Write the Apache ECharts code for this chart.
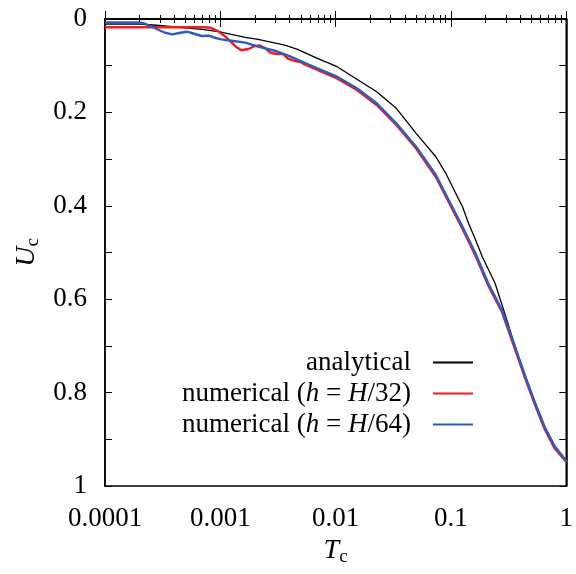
<!DOCTYPE html>
<html>
<head>
<meta charset="utf-8">
<script src="https://cdn.jsdelivr.net/npm/echarts@6/dist/echarts.min.js"></script>
<style>
  html, body { margin: 0; padding: 0; background: #fff; }
  #chart { width: 576px; height: 574px; }
</style>
</head>
<body>
<div id="chart"></div>
<script>
// analytical
var t_ana = [1e-4, 2e-4, 2.96e-4, 6.91e-4, 9.66e-4, 1.645e-3, 2.126e-3, 3.62e-3, 4.68e-3, 6.94e-3,
  0.0103, 0.0153, 0.0227, 0.0336, 0.0499, 0.074, 0.0902, 0.110, 0.126, 0.142, 0.163, 0.187, 0.2415, 0.294,
  0.359, 0.4365, 0.532, 0.649, 0.789, 1];
var u_ana = [0.0107, 0.0107, 0.0139, 0.0221, 0.0272, 0.0392, 0.0435, 0.0557, 0.0649, 0.0842,
  0.1021, 0.1291, 0.1557, 0.1912, 0.2448, 0.2949, 0.3304, 0.3732, 0.402, 0.4375, 0.472, 0.509, 0.566, 0.6317,
  0.7, 0.761, 0.819, 0.872, 0.913, 0.945];
// numerical h=H/32
var t_h32 = [1e-4, 2.43e-4, 6.51e-4, 7.93e-4, 8.75e-4, 9.66e-4, 1.088e-3, 1.249e-3, 1.378e-3, 1.521e-3,
  1.746e-3, 2.004e-3, 2.212e-3, 2.441e-3, 2.748e-3, 3.155e-3, 3.483e-3, 3.843e-3, 4.41e-3, 4.965e-3,
  5.37e-3, 6.05e-3, 6.94e-3, 0.0103, 0.0153, 0.0227, 0.0336, 0.0499, 0.074, 0.0956, 0.126, 0.163,
  0.2104, 0.2771, 0.359, 0.4365, 0.532, 0.649, 0.789, 1];
var u_h32 = [0.0178, 0.0178, 0.0178, 0.0182, 0.0214, 0.0268, 0.0364, 0.0503, 0.060, 0.067,
  0.0642, 0.0578, 0.0567, 0.0621, 0.0728, 0.0749, 0.0749, 0.0846, 0.0899, 0.0921,
  0.0974, 0.1028, 0.1092, 0.1274, 0.152, 0.1842, 0.227, 0.2773, 0.3383, 0.3919, 0.4497, 0.5064,
  0.5707, 0.6274, 0.7066, 0.7666, 0.8244, 0.878, 0.9186, 0.9486];
// numerical h=H/64
var t_h64 = [1e-4, 2.0e-4, 2.2e-4, 2.68e-4, 3.27e-4, 3.82e-4, 4.39e-4, 5.14e-4, 6.02e-4, 6.91e-4,
  7.93e-4, 9.11e-4, 1.025e-3, 1.249e-3, 1.645e-3, 2.126e-3, 2.973e-3, 4.076e-3, 4.965e-3, 6.94e-3,
  0.0103, 0.0153, 0.0227, 0.0336, 0.0499, 0.074, 0.0956, 0.126, 0.163, 0.2104, 0.2771, 0.359,
  0.4365, 0.532, 0.649, 0.789, 1];
var u_h64 = [0.0075, 0.0075, 0.0096, 0.0193, 0.0289, 0.0328, 0.030, 0.0272, 0.0321, 0.0364,
  0.0358, 0.0407, 0.0435, 0.0465, 0.0507, 0.0593, 0.0679, 0.0807, 0.0899, 0.1056,
  0.1236, 0.1484, 0.1805, 0.2233, 0.2734, 0.334, 0.3876, 0.4448, 0.5017, 0.566, 0.6231, 0.7017,
  0.7623, 0.8201, 0.8737, 0.9143, 0.9465];

var names = ['analytical', 'numerical (h = H/32)', 'numerical (h = H/64)'];
var legendText = {
  'analytical': 'analytical',
  'numerical (h = H/32)': 'numerical ({i|h} = {i|H}/32)',
  'numerical (h = H/64)': 'numerical ({i|h} = {i|H}/64)'
};
// minor log ticks 2..9 in each decade
var minorTicks = [];
for (var d = -4; d < 0; d++) {
  for (var m = 2; m <= 9; m++) minorTicks.push(m * Math.pow(10, d));
}

function pairs(t, u) {
  return t.map(function (v, i) { return [v, u[i]]; });
}

var FONT = 'Liberation Serif';
var nameRich = {
  i: { fontFamily: FONT, fontStyle: 'italic', fontSize: 28, color: '#000' },
  s: { fontFamily: FONT, fontSize: 19, color: '#000', padding: [12, 0, 0, 0] }
};

function xAx(pos, minor, labels) {
  return {
    type: 'log', logBase: 10, min: 1e-4, max: 1, position: pos, gridIndex: 0,
    axisLine: { show: !minor, lineStyle: { color: '#000', width: 1.5 } },
    axisTick: minor
      ? { show: true, inside: true, length: 4, customValues: minorTicks, lineStyle: { color: '#000', width: 1 } }
      : { show: true, inside: true, length: 8, lineStyle: { color: '#000', width: 1 } },
    axisLabel: labels
      ? { show: true, margin: 19, fontFamily: FONT, fontSize: 27, color: '#000',
          formatter: function (v) { return String(+v.toPrecision(1)); } }
      : { show: false },
    splitLine: { show: false },
    minorTick: { show: false }
  };
}

function yAx(pos, labels) {
  return {
    type: 'value', inverse: true, min: 0, max: 1, interval: 0.1, position: pos,
    axisLine: { show: true, lineStyle: { color: '#000', width: 1.5 } },
    axisTick: { show: true, inside: true, length: 7, lineStyle: { color: '#000', width: 1 } },
    axisLabel: labels
      ? { show: true, margin: 18, fontFamily: FONT, fontSize: 27, color: '#000',
          formatter: function (v) { var k = Math.round(v * 10); return k % 2 === 0 ? String(k / 10) : ''; } }
      : { show: false },
    splitLine: { show: false }
  };
}

var myChart = echarts.init(document.getElementById('chart'));
var xa = xAx('bottom', false, true);
xa.name = '{i|T}{s|c}';
xa.nameLocation = 'middle';
xa.nameGap = 47;
xa.nameTextStyle = { rich: nameRich };
var ya = yAx('left', true);
ya.name = '{i|U}{s|c}';
ya.nameLocation = 'middle';
ya.nameRotate = 90;
ya.nameGap = 60;
ya.nameTextStyle = { rich: nameRich };

myChart.setOption({
  animation: false,
  backgroundColor: '#fff',
  grid: { left: 105, right: 4, top: 19, bottom: 88, show: true, borderColor: '#000', borderWidth: 1.5 },
  legend: {
    orient: 'vertical', align: 'right', right: 103, top: 349, padding: 0,
    icon: 'rect', itemWidth: 40, itemHeight: 2, itemGap: 4,
    data: names,
    formatter: function (n) { return legendText[n]; },
    textStyle: {
      fontFamily: FONT, fontSize: 27, color: '#000', lineHeight: 25, padding: [0, 17, 0, 0],
      rich: { i: { fontFamily: FONT, fontStyle: 'italic', fontSize: 27, color: '#000', lineHeight: 25 } }
    }
  },
  xAxis: [xa, xAx('bottom', true, false), xAx('top', false, false), xAx('top', true, false)],
  yAxis: [ya, yAx('right', false)],
  series: [
    { name: names[0], type: 'line', data: pairs(t_ana, u_ana), showSymbol: false, symbol: 'none',
      lineStyle: { color: '#000', width: 1.3 }, itemStyle: { color: '#000' } },
    { name: names[1], type: 'line', data: pairs(t_h32, u_h32), showSymbol: false, symbol: 'none',
      lineStyle: { color: '#ee1c1c', width: 2.4 }, itemStyle: { color: '#ee1c1c' } },
    { name: names[2], type: 'line', data: pairs(t_h64, u_h64), showSymbol: false, symbol: 'none',
      lineStyle: { color: '#2f5cbf', width: 2.4 }, itemStyle: { color: '#2f5cbf' } }
  ]
});
</script>
</body>
</html>
